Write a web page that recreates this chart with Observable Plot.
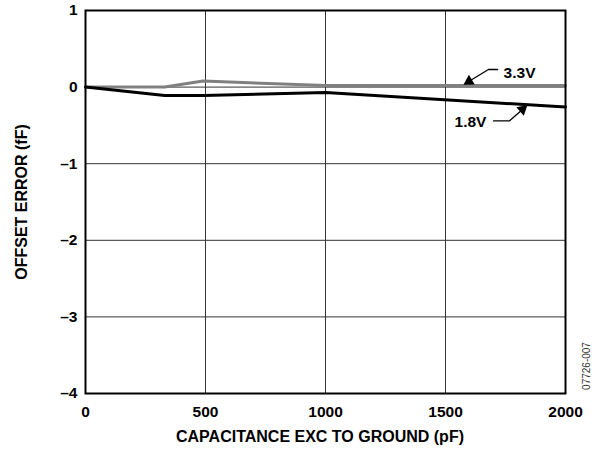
<!DOCTYPE html>
<html><head><meta charset="utf-8">
<script src="https://cdn.jsdelivr.net/npm/d3@7"></script>
<script src="https://cdn.jsdelivr.net/npm/@observablehq/plot@0.6"></script>
<style>
body{margin:0;background:#fff;}
svg{font-family:"Liberation Sans",Arial,sans-serif;}
</style>
</head><body>
<div id="chart"></div>
<script>
const capacitance = [0, 330, 490, 1000, 2000];
const offset33 = [0, 0.0, 0.08, 0.02, 0.02];
const offset18 = [0, -0.11, -0.11, -0.07, -0.26];
const xTicks = [0, 500, 1000, 1500, 2000];
const yTicks = [1, 0, -1, -2, -3, -4];
const seriesNames = ["3.3V", "1.8V"];
const seriesColors = ["#808080", "#000000"];
// annotation anchors (data units): label, leader polyline, arrowhead
const label33 = {x: 1742, y: 0.19};
const leader33 = [[1717, 0.23], [1679, 0.23], [1600, 0.08]];
const head33 = {x: 1598, y: 0.075, angle: 239};
const label18 = {x: 1604, y: -0.45};
const leader18 = [[1700, -0.44], [1767, -0.44], [1822, -0.29]];
const head18 = {x: 1821, y: -0.29, angle: 49};

const rows = [];
capacitance.forEach((c, i) => {
  rows.push({x: c, y: offset33[i], s: seriesNames[0]});
  rows.push({x: c, y: offset18[i], s: seriesNames[1]});
});

const plot = Plot.plot({
  width: 597, height: 450,
  marginLeft: 85, marginRight: 32, marginTop: 10, marginBottom: 57,
  x: {domain: [0, 2000], ticks: xTicks, label: null},
  y: {domain: [-4, 1], ticks: yTicks, label: null},
  color: {domain: seriesNames, range: seriesColors},
  marks: [
    Plot.gridX(xTicks.slice(1, -1), {stroke: "#333", strokeOpacity: 1, strokeWidth: 1}),
    Plot.gridY(yTicks.slice(1, -1), {stroke: "#333", strokeOpacity: 1, strokeWidth: 1}),
    Plot.line(rows, {x: "x", y: "y", z: "s", stroke: "s", strokeWidth: 3}),
    Plot.frame({stroke: "#000", strokeWidth: 2}),
    Plot.axisX(xTicks, {tickSize: 0, tickPadding: 12, fontSize: 15.5, fontWeight: "bold", fill: "#000", label: null, tickFormat: d3.format("d")}),
    Plot.axisY(yTicks, {tickSize: 0, tickPadding: 8, fontSize: 15.5, fontWeight: "bold", fill: "#000", label: null, tickFormat: d => d < 0 ? "\u2013" + Math.abs(d) : String(d)}),
    Plot.line(leader33, {stroke: "#000", strokeWidth: 1.3}),
    Plot.dot([head33], {x: "x", y: "y", symbol: "triangle", r: 4.2, fill: "#000", stroke: "none", rotate: "angle"}),
    Plot.line(leader18, {stroke: "#000", strokeWidth: 1.3}),
    Plot.dot([head18], {x: "x", y: "y", symbol: "triangle", r: 4.2, fill: "#000", stroke: "none", rotate: "angle"}),
    Plot.text([label33], {x: "x", y: "y", text: () => seriesNames[0], fontSize: 15.5, fontWeight: "bold", fill: "#000", textAnchor: "start"}),
    Plot.text([label18], {x: "x", y: "y", text: () => seriesNames[1], fontSize: 15.5, fontWeight: "bold", fill: "#000", textAnchor: "middle"})
  ]
});

const svg = d3.select(plot);
svg.append("text").attr("x", 320).attr("y", 442).attr("text-anchor", "middle")
  .attr("font-size", 16).attr("font-weight", "bold").attr("fill", "#000")
  .text("CAPACITANCE EXC TO GROUND (pF)");
svg.append("text").attr("transform", "translate(27,202) rotate(-90)").attr("text-anchor", "middle")
  .attr("font-size", 16).attr("font-weight", "bold").attr("fill", "#000")
  .text("OFFSET ERROR (fF)");
svg.append("text").attr("transform", "translate(590,366) rotate(-90)").attr("text-anchor", "middle")
  .attr("font-size", 10).attr("fill", "#333")
  .text("07726-007");

document.getElementById("chart").appendChild(plot);
</script>
</body></html>
